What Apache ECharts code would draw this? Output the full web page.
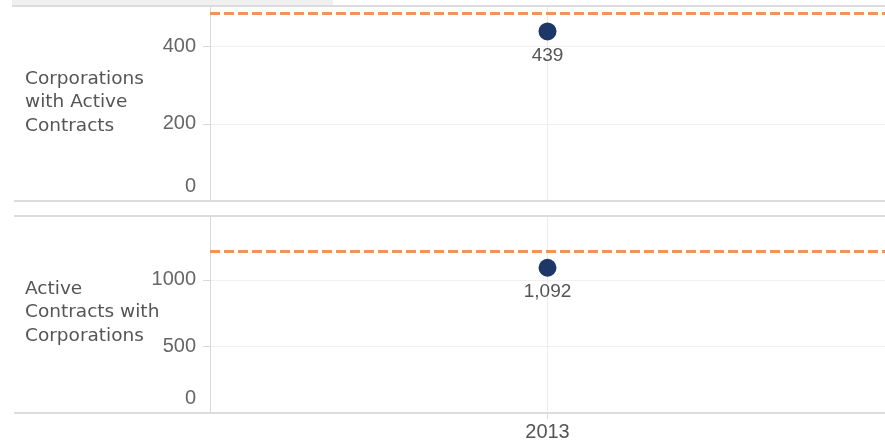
<!DOCTYPE html>
<html>
<head>
<meta charset="utf-8">
<script src="https://cdn.jsdelivr.net/npm/echarts@6/dist/echarts.min.js"></script>
<style>
html,body{margin:0;padding:0;background:#fff;}
#chart{width:885px;height:447px;}
</style>
</head>
<body>
<div id="chart"></div>
<script>
// ---- data ----
const categories = ['2013'];
const corporationsValues = [439];
const contractsValues = [1092];
const corporationsRef = [485];
const contractsRef = [1213];
const topAxis = { min: 0, max: 505, interval: 200 };
const bottomAxis = { min: 0, max: 1481, interval: 500 };
const rowLabels = ['Corporations\nwith Active\nContracts', 'Active\nContracts with\nCorporations'];

const chart = echarts.init(document.getElementById('chart'), null, { renderer: 'canvas' });

const tickFont = 'Liberation Sans, Arial, sans-serif';
const gray = '#d9d9d9';

function yAxis(idx, ax) {
  return {
    gridIndex: idx, type: 'value', min: ax.min, max: ax.max, interval: ax.interval,
    axisLine: { show: true, lineStyle: { color: gray, width: 1 } },
    axisTick: { show: true, length: 7, lineStyle: { color: gray } },
    axisLabel: {
      showMaxLabel: false, margin: 14, color: '#666', fontSize: 20, fontFamily: tickFont,
      lineHeight: 30, verticalAlignMinLabel: 'bottom',
      formatter: v => String(v)
    },
    splitLine: { show: true, lineStyle: { color: '#f0f0f0', width: 1 } }
  };
}

function series(idx, vals, ref) {
  return {
    type: 'scatter', xAxisIndex: idx, yAxisIndex: idx,
    data: vals, symbol: 'circle', symbolSize: 18,
    itemStyle: { color: '#1d3868', opacity: 1 },
    label: {
      show: true, position: 'bottom', distance: 6, color: '#555', fontSize: 19,
      fontFamily: tickFont,
      formatter: p => Number(p.value).toLocaleString('en-US')
    },
    z: 5,
    markLine: {
      silent: true, symbol: 'none', animation: false,
      label: { show: false },
      data: [
        { xAxis: categories[0], lineStyle: { color: '#ebebeb', width: 1, type: 'solid' } },
        { yAxis: ref[0], lineStyle: { color: '#f4925a', width: 3, type: [10, 4] } }
      ]
    }
  };
}

const rowLabelStyle = { fill: '#555', fontSize: 18.5, fontFamily: 'DejaVu Sans, sans-serif', lineHeight: 23.5 };

chart.setOption({
  animation: false,
  grid: [
    { left: 210, right: 0, top: 6, height: 195 },
    { left: 210, right: 0, top: 216, height: 197 }
  ],
  xAxis: [
    { gridIndex: 0, type: 'category', data: categories, boundaryGap: true,
      axisLine: { show: false }, axisTick: { show: false }, axisLabel: { show: false }, splitLine: { show: false } },
    { gridIndex: 1, type: 'category', data: categories, boundaryGap: true,
      axisLine: { show: true, lineStyle: { color: gray, width: 2 } },
      axisTick: { show: true, alignWithLabel: true, length: 6, lineStyle: { color: gray } },
      axisLabel: { color: '#555', fontSize: 20, fontFamily: tickFont, margin: 9 },
      splitLine: { show: false } }
  ],
  yAxis: [yAxis(0, topAxis), yAxis(1, bottomAxis)],
  series: [series(0, corporationsValues, corporationsRef), series(1, contractsValues, contractsRef)],
  graphic: [
    { type: 'rect', shape: { x: 12, y: 0, width: 321, height: 6 }, style: { fill: '#f0f0f0' }, z: 10 },
    { type: 'line', shape: { x1: 12, y1: 6, x2: 885, y2: 6 }, style: { stroke: '#dcdcdc', lineWidth: 2 }, z: 10 },
    { type: 'line', shape: { x1: 14, y1: 201, x2: 885, y2: 201 }, style: { stroke: '#dcdcdc', lineWidth: 2 }, z: 10 },
    { type: 'line', shape: { x1: 14, y1: 216, x2: 885, y2: 216 }, style: { stroke: '#dcdcdc', lineWidth: 2 }, z: 10 },
    { type: 'line', shape: { x1: 14, y1: 413, x2: 885, y2: 413 }, style: { stroke: '#dcdcdc', lineWidth: 2 }, z: 10 },
    { type: 'text', style: Object.assign({ text: rowLabels[0] }, rowLabelStyle), position: [25, 67], z: 10 },
    { type: 'text', style: Object.assign({ text: rowLabels[1] }, rowLabelStyle), position: [25, 277], z: 10 }
  ]
});
</script>
</body>
</html>
